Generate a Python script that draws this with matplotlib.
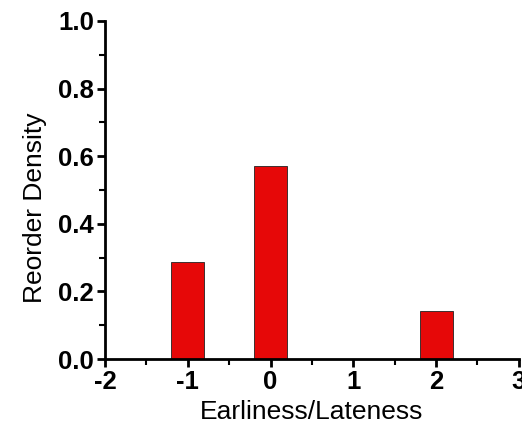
import numpy as np
import matplotlib.pyplot as plt
from matplotlib.ticker import MultipleLocator

plt.rcParams['font.family'] = ['Liberation Sans', 'DejaVu Sans']
plt.rcParams['axes.unicode_minus'] = False

offsets = [-1, 0, 2]
density = [0.286, 0.571, 0.143]

fig = plt.figure(figsize=(5.22, 4.28), dpi=100)
ax = fig.add_axes([0.201, 0.161, 0.793, 0.790])

ax.bar(offsets, density, width=0.4, color='#e60808', edgecolor='#222222', linewidth=0.6, zorder=2)

ax.set_xlim(-2, 3)
ax.set_ylim(0, 1.0)
ax.xaxis.set_major_locator(MultipleLocator(1))
ax.xaxis.set_minor_locator(MultipleLocator(0.5))
ax.yaxis.set_major_locator(MultipleLocator(0.2))
ax.yaxis.set_minor_locator(MultipleLocator(0.1))
ax.yaxis.set_major_formatter(plt.FuncFormatter(lambda v, p: f'{v:.1f}'))

for s in ['top', 'right']:
    ax.spines[s].set_visible(False)
for s in ['left', 'bottom']:
    ax.spines[s].set_linewidth(2)

ax.tick_params(which='major', direction='out', length=6, width=2, labelsize=18.5, pad=2)
ax.tick_params(which='minor', direction='out', length=4, width=1.5)
for lab in ax.get_xticklabels() + ax.get_yticklabels():
    lab.set_fontweight('bold')

ax.set_xlabel('Earliness/Lateness', fontsize=19, labelpad=4)
ax.set_ylabel('Reorder Density', fontsize=19, labelpad=8, y=0.447)

fig.savefig('out.png', dpi=100)
